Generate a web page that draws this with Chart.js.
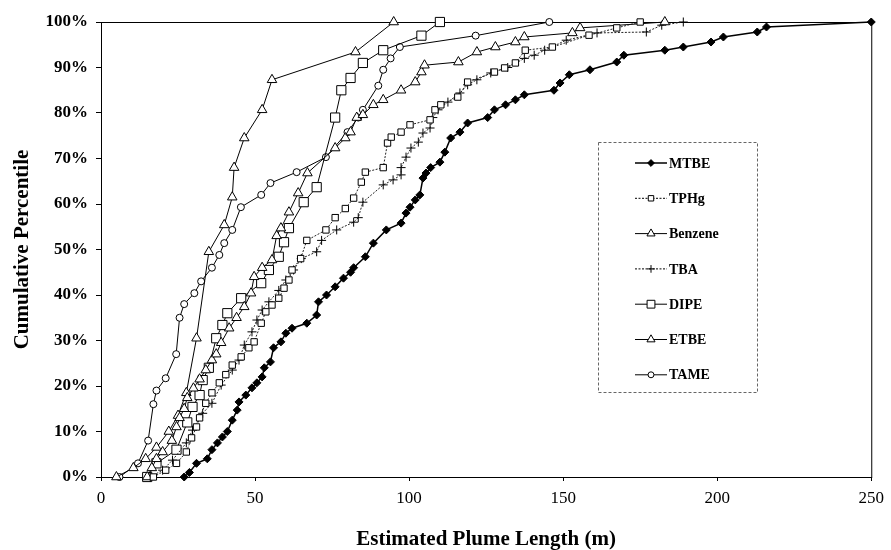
<!DOCTYPE html>
<html>
<head>
<meta charset="utf-8">
<script src="https://cdn.jsdelivr.net/npm/chart.js@4.4.0/dist/chart.umd.min.js"></script>
<style>
  html, body { margin: 0; padding: 0; background: #fff; }
  #wrap { width: 891px; height: 550px; }
</style>
</head>
<body>
<div id="wrap"><canvas id="plumeChart"></canvas></div>
<script>
// Estimated plume length (m) against cumulative percentile (%)
const mtbeLength = [27, 28.7, 31, 34.5, 36, 37.8, 39.4, 41, 42.6, 44.2, 44.8, 47, 49, 50.6, 52.3, 53, 55, 56, 58.4, 60, 62, 66.8, 70, 70.6, 73.2, 76, 78.7, 81, 82, 85.8, 88.4, 92.6, 97.4, 99, 100.3, 102, 103.5, 104.5, 105.5, 107, 110, 111.6, 113.5, 116.5, 119, 125.5, 127.7, 131.3, 134.5, 137.4, 147, 149, 152, 158.7, 167.4, 169.7, 183, 189, 198, 202, 213, 216, 250];
const mtbePct = [0, 1, 3, 4, 6, 7.5, 8.8, 10, 12.5, 14.7, 16.5, 18, 19.6, 20.7, 22, 24, 25.3, 28.4, 29.7, 31.6, 32.7, 33.8, 35.6, 38.5, 40, 41.8, 43.7, 45, 46, 48.4, 51.4, 54.3, 55.8, 58, 59.3, 60.9, 62, 65.7, 66.8, 68, 69.2, 71.4, 74.5, 75.8, 77.8, 79, 80.7, 81.8, 82.9, 84, 85, 86.6, 88.4, 89.5, 91.2, 92.7, 93.8, 94.5, 95.6, 96.7, 97.8, 98.9, 100];

const tphgLength = [17, 21, 24.5, 27.7, 29.4, 31, 32, 34, 36, 38.4, 40.5, 42.6, 45.5, 48, 49.7, 52, 53.5, 55.5, 57.7, 59.4, 61, 62, 64.8, 66.8, 73, 76, 79.3, 82, 84.5, 85.8, 91.6, 93, 94.2, 97.4, 100.3, 106.8, 108.4, 110.3, 115.8, 119, 127.7, 131, 134.5, 137.7, 146.5, 158.4, 167.4, 175];
const tphgPct = [0, 1.5, 3, 5.5, 8.6, 11, 13, 16.2, 18.5, 20.7, 22.5, 24.6, 26.4, 28.4, 29.7, 33.8, 36.3, 37.8, 39.3, 41.5, 43.3, 45.5, 48, 52, 54.3, 57, 59, 61.3, 64.8, 67, 68, 73.4, 74.7, 75.8, 77.4, 78.5, 80.7, 81.8, 83.5, 86.8, 89, 89.9, 91, 93.8, 94.5, 97.1, 98.7, 100];

const benzeneLength = [15, 16.5, 18, 20, 23, 24.5, 25.5, 27, 28, 30, 32, 34, 36, 37.4, 39, 41.6, 44, 46.5, 48.7, 49.7, 52.3, 55.5, 57, 58.4, 61, 64, 67, 76, 79.3, 81, 83, 85, 88.4, 91.6, 97.4, 102, 104, 105, 116, 122, 128, 134.5, 137.4, 153, 155.5, 183];
const benzenePct = [0, 2, 4, 5.5, 8, 11, 13, 15, 17.4, 19.5, 21.5, 23.5, 25.7, 27, 29.5, 32.7, 35, 37.4, 40.4, 44, 46, 47.7, 53, 54.7, 58.2, 62.4, 66.8, 72.3, 74.5, 75.8, 79, 79.6, 81.8, 82.9, 85, 86.8, 89, 90.5, 91.2, 93.4, 94.5, 95.6, 96.7, 97.6, 98.7, 100];

const tbaLength = [16, 20, 23.2, 27.7, 29.7, 33, 36, 39, 42.6, 44.8, 46.5, 49, 50.6, 52.3, 54.5, 57.7, 60, 62.5, 65, 70, 71.6, 76.5, 82, 83.5, 85, 91.6, 94.8, 97.4, 97.4, 99, 100.6, 103, 104.5, 106.8, 107.7, 109.4, 112.6, 116.5, 119, 122, 126.5, 132, 137.4, 140.6, 144, 151, 161, 177, 182, 189];
const tbaPct = [0, 1.5, 3.7, 7.5, 10.3, 14, 16.2, 20.2, 23.5, 25.7, 29, 31.9, 34.5, 36.7, 38.5, 41, 43.3, 45.5, 48, 49.5, 52, 54.3, 56, 57, 60.4, 64.2, 65.3, 66.4, 68, 70.3, 72.3, 73.6, 75.6, 76.7, 79, 80.7, 82.4, 84.4, 86.2, 87.3, 88.8, 90, 92, 92.7, 93.8, 96, 97.6, 97.8, 99.3, 100];

const dipeLength = [15, 18, 24.5, 28, 29.7, 32, 33, 35, 37.4, 39.4, 41, 45.5, 52, 54.5, 57.7, 59.4, 61, 65.8, 70, 76, 78, 81, 85, 91.6, 104, 110];
const dipePct = [0, 3, 6, 12, 15.4, 18, 21.3, 24, 30.5, 33.4, 36, 39.3, 42.6, 45.5, 48.4, 51.6, 54.7, 60.4, 63.7, 79, 85, 87.7, 91, 93.8, 97, 100];

const etbeLength = [5, 10.5, 14.5, 18, 22, 25, 27.7, 31, 35, 40, 42.6, 43.2, 46.5, 52.3, 55.5, 82.6, 95];
const etbePct = [0, 2, 4, 6.5, 10, 13.5, 18.5, 30.5, 49.5, 55.4, 61.5, 68, 74.5, 80.7, 87.3, 93.4, 100];

const tameLength = [6, 12, 15.3, 17, 18, 21, 24.4, 25.5, 27, 30.3, 32.5, 36, 38.4, 40, 42.6, 45.4, 52, 55, 63.5, 73, 80, 83.5, 85, 90, 91.6, 94, 97, 121.6, 145.5];
const tamePct = [0, 3, 8, 16, 19, 21.7, 27, 35, 38, 40.4, 43, 46, 48.8, 51.4, 54.3, 59.3, 62, 64.6, 67, 70.3, 75.8, 79, 80.7, 86, 89.5, 92, 94.5, 97, 100];

const xTicks = [0, 50, 100, 150, 200, 250];
const yTicks = [0, 10, 20, 30, 40, 50, 60, 70, 80, 90, 100];

const pairs = (xs, ys) => xs.map((x, i) => ({ x: x, y: ys[i] }));

const serif = '"Liberation Serif", "Times New Roman", serif';

function series(label, xs, ys, style) {
  return Object.assign({
    label: label,
    data: pairs(xs, ys),
    showLine: true,
    borderColor: '#000',
    borderWidth: 1,
    pointBorderColor: '#000',
    pointBackgroundColor: '#fff',
    pointBorderWidth: 1,
    clip: false
  }, style);
}

// legend box sitting inside the plot, like the original
const boxLegend = {
  id: 'boxLegend',
  afterDraw(chart) {
    const ctx = chart.ctx;
    ctx.save();
    ctx.strokeStyle = '#666';
    ctx.lineWidth = 1;
    ctx.setLineDash([3, 2]);
    ctx.strokeRect(598.5, 142.5, 159, 250);
    chart.data.datasets.forEach((ds, i) => {
      const y = 163 + i * 35.3;
      ctx.setLineDash(ds.borderDash || []);
      ctx.strokeStyle = '#000';
      ctx.lineWidth = ds.borderWidth;
      ctx.beginPath();
      ctx.moveTo(635, y);
      ctx.lineTo(667, y);
      ctx.stroke();
      ctx.setLineDash([]);
      ctx.lineWidth = 1;
      ctx.fillStyle = ds.pointBackgroundColor;
      Chart.helpers.drawPoint(ctx, {
        pointStyle: ds.pointStyle,
        radius: ds.pointRadius * 0.85,
        rotation: 0,
        borderWidth: 1
      }, 651, y);
      ctx.fillStyle = '#000';
      ctx.font = 'bold 14px ' + serif;
      ctx.textBaseline = 'middle';
      ctx.textAlign = 'left';
      ctx.fillText(ds.label, 669, y + 1);
    });
    ctx.restore();
  }
};

// frame round the plot area
const plotFrame = {
  id: 'plotFrame',
  beforeDatasetsDraw(chart) {
    const a = chart.chartArea;
    const ctx = chart.ctx;
    ctx.save();
    ctx.strokeStyle = '#000';
    ctx.lineWidth = 1;
    ctx.strokeRect(a.left + 0.5, a.top + 0.5, a.right - a.left, a.bottom - a.top);
    ctx.restore();
  }
};

new Chart(document.getElementById('plumeChart'), {
  type: 'scatter',
  data: {
    datasets: [
      series('MTBE', mtbeLength, mtbePct, { pointStyle: 'rectRot', pointRadius: 4, pointBackgroundColor: '#000', borderWidth: 1.5 }),
      series('TPHg', tphgLength, tphgPct, { pointStyle: 'rect', pointRadius: 4.5, borderColor: '#222', borderDash: [2, 1.5] }),
      series('Benzene', benzeneLength, benzenePct, { pointStyle: 'triangle', pointRadius: 5.5 }),
      series('TBA', tbaLength, tbaPct, { pointStyle: 'cross', pointRadius: 4.5, borderColor: '#222', borderDash: [2, 1.5] }),
      series('DIPE', dipeLength, dipePct, { pointStyle: 'rect', pointRadius: 6.5 }),
      series('ETBE', etbeLength, etbePct, { pointStyle: 'triangle', pointRadius: 5.5 }),
      series('TAME', tameLength, tamePct, { pointStyle: 'circle', pointRadius: 3.5 })
    ]
  },
  options: {
    responsive: true,
    maintainAspectRatio: false,
    animation: false,
    layout: {
      padding: { top: 22, right: 14, left: 0, bottom: 0 }
    },
    plugins: {
      legend: { display: false },
      tooltip: { enabled: false }
    },
    scales: {
      x: {
        type: 'linear',
        min: 0,
        max: 250,
        afterBuildTicks: axis => { axis.ticks = xTicks.map(v => ({ value: v })); },
        afterFit: scale => { scale.height = 73; },
        grid: { display: true, drawOnChartArea: false, drawTicks: true, tickLength: 4, color: '#000' },
        border: { display: true, color: '#000', width: 1 },
        ticks: {
          color: '#000',
          padding: 7,
          maxRotation: 0,
          font: { family: serif, size: 17 }
        },
        title: {
          display: true,
          text: 'Estimated Plume Length (m)',
          color: '#000',
          padding: 0,
          font: { family: serif, size: 21, weight: 'bold', lineHeight: 1.0 }
        }
      },
      y: {
        type: 'linear',
        min: 0,
        max: 100,
        afterBuildTicks: axis => { axis.ticks = yTicks.map(v => ({ value: v })); },
        afterFit: scale => { scale.width = 101; },
        grid: { display: true, drawOnChartArea: false, drawTicks: true, tickLength: 5, color: '#000' },
        border: { display: true, color: '#000', width: 1 },
        ticks: {
          color: '#000',
          padding: 8,
          font: { family: serif, size: 17, weight: 'bold' },
          callback: v => v + '%'
        },
        title: {
          display: true,
          text: 'Cumulative Percentile',
          color: '#000',
          padding: { top: 12, bottom: 0 },
          font: { family: serif, size: 21, weight: 'bold', lineHeight: 1.0 }
        }
      }
    }
  },
  plugins: [plotFrame, boxLegend]
});
</script>
</body>
</html>
